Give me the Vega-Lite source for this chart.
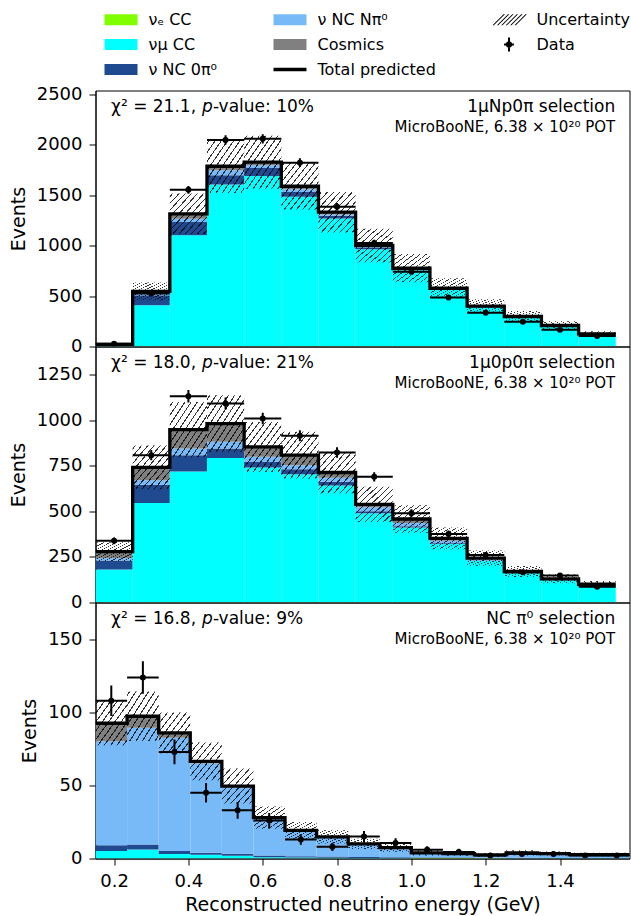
{
"$schema": "https://vega.github.io/schema/vega-lite/v6.json",
"autosize": {"type": "pad"},
"padding": {"left": 8.5, "top": 2.5, "right": 0, "bottom": 2},
"background": "white",
"datasets": {
"d": [
{"p":"A","x0":0.15,"x1":0.25,"xc":0.2,"tot":22,"lo":14,"hi":30,"n":28,"nlo":23,"nhi":33,"1e":0,"2mu":14,"3n0":4,"4nn":1,"5cos":3},
{"p":"A","x0":0.25,"x1":0.35,"xc":0.3,"tot":545,"lo":457,"hi":633,"n":525,"nlo":502,"nhi":548,"1e":3,"2mu":405,"3n0":100,"4nn":17,"5cos":20},
{"p":"A","x0":0.35,"x1":0.45,"xc":0.4,"tot":1314,"lo":1114,"hi":1514,"n":1551,"nlo":1512,"nhi":1590,"1e":3,"2mu":1099,"3n0":132,"4nn":30,"5cos":50},
{"p":"A","x0":0.45,"x1":0.55,"xc":0.5,"tot":1785,"lo":1520,"hi":2050,"n":2046,"nlo":2001,"nhi":2091,"1e":3,"2mu":1600,"3n0":92,"4nn":50,"5cos":40},
{"p":"A","x0":0.55,"x1":0.65,"xc":0.6,"tot":1825,"lo":1563,"hi":2087,"n":2056,"nlo":2011,"nhi":2101,"1e":3,"2mu":1686,"3n0":79,"4nn":27,"5cos":30},
{"p":"A","x0":0.65,"x1":0.75,"xc":0.7,"tot":1587,"lo":1357,"hi":1817,"n":1820,"nlo":1777,"nhi":1863,"1e":3,"2mu":1479,"3n0":49,"4nn":26,"5cos":30},
{"p":"A","x0":0.75,"x1":0.85,"xc":0.8,"tot":1330,"lo":1130,"hi":1530,"n":1383,"nlo":1346,"nhi":1420,"1e":3,"2mu":1264,"3n0":28,"4nn":12,"5cos":23},
{"p":"A","x0":0.85,"x1":0.95,"xc":0.9,"tot":1000,"lo":835,"hi":1165,"n":1025,"nlo":993,"nhi":1057,"1e":2,"2mu":960,"3n0":15,"4nn":10,"5cos":13},
{"p":"A","x0":0.95,"x1":1.05,"xc":1.0,"tot":775,"lo":635,"hi":915,"n":740,"nlo":713,"nhi":767,"1e":2,"2mu":752,"3n0":8,"4nn":6,"5cos":7},
{"p":"A","x0":1.05,"x1":1.15,"xc":1.1,"tot":577,"lo":477,"hi":677,"n":485,"nlo":463,"nhi":507,"1e":2,"2mu":558,"3n0":6,"4nn":4,"5cos":7},
{"p":"A","x0":1.15,"x1":1.25,"xc":1.2,"tot":399,"lo":329,"hi":469,"n":335,"nlo":317,"nhi":353,"1e":2,"2mu":385,"3n0":4,"4nn":3,"5cos":5},
{"p":"A","x0":1.25,"x1":1.35,"xc":1.3,"tot":297,"lo":242,"hi":352,"n":245,"nlo":229,"nhi":261,"1e":2,"2mu":284,"3n0":3,"4nn":2,"5cos":6},
{"p":"A","x0":1.35,"x1":1.45,"xc":1.4,"tot":208,"lo":166,"hi":250,"n":165,"nlo":152,"nhi":178,"1e":2,"2mu":198,"3n0":2,"4nn":2,"5cos":4},
{"p":"A","x0":1.45,"x1":1.55,"xc":1.5,"tot":125,"lo":99,"hi":151,"n":105,"nlo":95,"nhi":115,"1e":2,"2mu":117,"3n0":2,"4nn":1,"5cos":3},
{"p":"B","x0":0.15,"x1":0.25,"xc":0.2,"tot":279,"lo":227,"hi":331,"n":338,"nlo":320,"nhi":356,"1e":2,"2mu":179,"3n0":50,"4nn":12,"5cos":36},
{"p":"B","x0":0.25,"x1":0.35,"xc":0.3,"tot":741,"lo":621,"hi":861,"n":808,"nlo":780,"nhi":836,"1e":2,"2mu":544,"3n0":100,"4nn":25,"5cos":70},
{"p":"B","x0":0.35,"x1":0.45,"xc":0.4,"tot":948,"lo":796,"hi":1100,"n":1131,"nlo":1097,"nhi":1165,"1e":2,"2mu":717,"3n0":89,"4nn":37,"5cos":103},
{"p":"B","x0":0.45,"x1":0.55,"xc":0.5,"tot":981,"lo":826,"hi":1136,"n":1091,"nlo":1058,"nhi":1124,"1e":2,"2mu":790,"3n0":53,"4nn":36,"5cos":100},
{"p":"B","x0":0.55,"x1":0.65,"xc":0.6,"tot":853,"lo":716,"hi":990,"n":1009,"nlo":977,"nhi":1041,"1e":2,"2mu":739,"3n0":30,"4nn":28,"5cos":54},
{"p":"B","x0":0.65,"x1":0.75,"xc":0.7,"tot":808,"lo":680,"hi":936,"n":914,"nlo":884,"nhi":944,"1e":2,"2mu":702,"3n0":27,"4nn":22,"5cos":55},
{"p":"B","x0":0.75,"x1":0.85,"xc":0.8,"tot":713,"lo":599,"hi":827,"n":823,"nlo":794,"nhi":852,"1e":2,"2mu":640,"3n0":20,"4nn":22,"5cos":29},
{"p":"B","x0":0.85,"x1":0.95,"xc":0.9,"tot":538,"lo":441,"hi":635,"n":689,"nlo":663,"nhi":715,"1e":2,"2mu":488,"3n0":10,"4nn":22,"5cos":16},
{"p":"B","x0":0.95,"x1":1.05,"xc":1.0,"tot":458,"lo":382,"hi":534,"n":489,"nlo":467,"nhi":511,"1e":2,"2mu":410,"3n0":6,"4nn":18,"5cos":22},
{"p":"B","x0":1.05,"x1":1.15,"xc":1.1,"tot":352,"lo":292,"hi":412,"n":376,"nlo":357,"nhi":395,"1e":2,"2mu":320,"3n0":4,"4nn":12,"5cos":14},
{"p":"B","x0":1.15,"x1":1.25,"xc":1.2,"tot":243,"lo":201,"hi":285,"n":261,"nlo":245,"nhi":277,"1e":2,"2mu":226,"3n0":3,"4nn":6,"5cos":6},
{"p":"B","x0":1.25,"x1":1.35,"xc":1.3,"tot":170,"lo":140,"hi":200,"n":166,"nlo":153,"nhi":179,"1e":2,"2mu":158,"3n0":2,"4nn":4,"5cos":4},
{"p":"B","x0":1.35,"x1":1.45,"xc":1.4,"tot":130,"lo":105,"hi":155,"n":148,"nlo":136,"nhi":160,"1e":2,"2mu":120,"3n0":1,"4nn":3,"5cos":4},
{"p":"B","x0":1.45,"x1":1.55,"xc":1.5,"tot":100,"lo":82,"hi":118,"n":86,"nlo":77,"nhi":95,"1e":2,"2mu":92,"3n0":1,"4nn":2,"5cos":3},
{"p":"C","x0":0.15,"x1":0.235,"xc":0.1925,"tot":92.6,"lo":77.6,"hi":107.6,"n":108,"nlo":97.6,"nhi":118.4,"1e":0,"2mu":5.2,"3n0":3.9,"4nn":71.2,"5cos":12.3},
{"p":"C","x0":0.235,"x1":0.32,"xc":0.2775,"tot":97.4,"lo":80.4,"hi":114.4,"n":124,"nlo":112.9,"nhi":135.1,"1e":0,"2mu":6.1,"3n0":3.5,"4nn":79.9,"5cos":7.9},
{"p":"C","x0":0.32,"x1":0.405,"xc":0.3625,"tot":86,"lo":72,"hi":100,"n":73,"nlo":64.5,"nhi":81.5,"1e":0,"2mu":3,"3n0":2.2,"4nn":77.4,"5cos":3.4},
{"p":"C","x0":0.405,"x1":0.49,"xc":0.4475,"tot":66.5,"lo":53.5,"hi":79.5,"n":45,"nlo":38.3,"nhi":51.7,"1e":0,"2mu":2.5,"3n0":1.5,"4nn":61,"5cos":1.5},
{"p":"C","x0":0.49,"x1":0.575,"xc":0.5325,"tot":49.6,"lo":37.6,"hi":61.6,"n":33,"nlo":27.3,"nhi":38.7,"1e":0,"2mu":1.8,"3n0":1.5,"4nn":45.3,"5cos":1},
{"p":"C","x0":0.575,"x1":0.66,"xc":0.6175,"tot":28,"lo":20.4,"hi":35.6,"n":26,"nlo":20.9,"nhi":31.1,"1e":0,"2mu":0.8,"3n0":1.2,"4nn":25,"5cos":1},
{"p":"C","x0":0.66,"x1":0.745,"xc":0.7025,"tot":19.3,"lo":13.6,"hi":25,"n":13,"nlo":9.4,"nhi":16.6,"1e":0,"2mu":0.6,"3n0":1,"4nn":17,"5cos":0.7},
{"p":"C","x0":0.745,"x1":0.83,"xc":0.7875,"tot":14.8,"lo":10.3,"hi":19.3,"n":8,"nlo":5.2,"nhi":10.8,"1e":0,"2mu":0.5,"3n0":0.8,"4nn":13,"5cos":0.5},
{"p":"C","x0":0.83,"x1":0.915,"xc":0.8725,"tot":10,"lo":6.5,"hi":13.5,"n":15,"nlo":11.1,"nhi":18.9,"1e":0,"2mu":0.4,"3n0":0.6,"4nn":8.6,"5cos":0.4},
{"p":"C","x0":0.915,"x1":1.0,"xc":0.9575,"tot":7.4,"lo":4.6,"hi":10.2,"n":10.6,"nlo":7.3,"nhi":13.9,"1e":0,"2mu":0.3,"3n0":0.5,"4nn":6.3,"5cos":0.3},
{"p":"C","x0":1.0,"x1":1.085,"xc":1.0425,"tot":3.9,"lo":2.1,"hi":5.7,"n":6,"nlo":3.6,"nhi":8.4,"1e":0.3,"2mu":0.2,"3n0":0.3,"4nn":2.9,"5cos":0.2},
{"p":"C","x0":1.085,"x1":1.17,"xc":1.1275,"tot":3.4,"lo":1.8,"hi":5.0,"n":4.5,"nlo":2.4,"nhi":6.6,"1e":0.3,"2mu":0.2,"3n0":0.3,"4nn":2.4,"5cos":0.2},
{"p":"C","x0":1.17,"x1":1.255,"xc":1.2125,"tot":2.5,"lo":1.2,"hi":3.8,"n":2,"nlo":0.6,"nhi":3.4,"1e":0.2,"2mu":0.1,"3n0":0.2,"4nn":1.8,"5cos":0.2},
{"p":"C","x0":1.255,"x1":1.34,"xc":1.2975,"tot":3.9,"lo":2.1,"hi":5.7,"n":3,"nlo":1.3,"nhi":4.7,"1e":0,"2mu":0.2,"3n0":0.3,"4nn":3.2,"5cos":0.2},
{"p":"C","x0":1.34,"x1":1.425,"xc":1.3825,"tot":3.4,"lo":2.0,"hi":4.8,"n":3,"nlo":1.3,"nhi":4.7,"1e":0,"2mu":0.1,"3n0":0.2,"4nn":2.9,"5cos":0.2},
{"p":"C","x0":1.425,"x1":1.51,"xc":1.4675,"tot":2.7,"lo":1.5,"hi":3.9,"n":2,"nlo":0.6,"nhi":3.4,"1e":0,"2mu":0.1,"3n0":0.2,"4nn":2.2,"5cos":0.2},
{"p":"C","x0":1.51,"x1":1.595,"xc":1.5525,"tot":2.7,"lo":1.5,"hi":3.9,"n":2,"nlo":0.6,"nhi":3.4,"1e":0,"2mu":0.1,"3n0":0.2,"4nn":2.2,"5cos":0.2}
]
},
"vconcat": [
{
"width": 534, "height": 256,
"layer": [
{"data": {"name": "d"}, "transform": [{"filter": "datum.p == 'A'"}, {"fold": ["1e","2mu","3n0","4nn","5cos"], "as": ["key","v"]}, {"stack": "v", "groupby": ["x0"], "sort": [{"field": "key"}], "as": ["s0","s1"]}],
 "mark": {"type": "rect", "clip": true},
 "encoding": {
  "x": {"field": "x0", "type": "quantitative", "scale": {"domain": [0.15, 1.587], "nice": false, "zero": false}, "axis": null},
  "x2": {"field": "x1"},
  "y": {"field": "s0", "type": "quantitative", "scale": {"domain": [0, 2535], "nice": false, "zero": false}, "axis": {"title": "Events", "values": [0,500,1000,1500,2000,2500]}},
  "y2": {"field": "s1"},
  "fill": {"field": "key", "type": "nominal",
   "scale": {"domain": ["1e","4nn","7unc","2mu","5cos","8dat","3n0","6tot"], "range": ["#7fff00","#78baf8","black","#00ffff","#808080","black","#1f4a8f","black"]},
   "legend": {"orient": "none", "legendX": 9, "legendY": -87.5, "direction": "horizontal", "columns": 3, "title": null,
     "labelExpr": "datum.value === '1e' ? 'νₑ CC' : datum.value === '2mu' ? 'νμ CC' : datum.value === '3n0' ? 'ν NC 0π⁰' : datum.value === '4nn' ? 'ν NC Nπ⁰' : datum.value === '5cos' ? 'Cosmics' : datum.value === '6tot' ? 'Total predicted' : datum.value === '7unc' ? 'Uncertainty' : 'Data'"}
  }
 }},
{"data": {"name": "d"}, "transform": [{"filter": "false"}, {"fold": ["1e","2mu","3n0","4nn","5cos"], "as": ["key","v"]}],
 "mark": {"type": "point", "filled": true, "opacity": 1},
 "encoding": {
  "x": {"field": "xc", "type": "quantitative", "scale": {"domain": [0.15, 1.587], "nice": false, "zero": false}, "axis": null},
  "y": {"field": "n", "type": "quantitative", "scale": {"domain": [0, 2535], "nice": false, "zero": false}, "axis": {"title": "Events", "values": [0,500,1000,1500,2000,2500]}},
  "fill": {"field": "key", "type": "nominal",
   "scale": {"domain": ["1e","4nn","7unc","2mu","5cos","8dat","3n0","6tot"], "range": ["#7fff00","#78baf8","black","#00ffff","#808080","black","#1f4a8f","black"]}},
  "shape": {"field": "key", "type": "nominal",
   "scale": {"domain": ["1e","4nn","7unc","2mu","5cos","8dat","3n0","6tot"], "range": [
     "M-1,-0.33H1V0.33H-1Z",
     "M-1,-0.33H1V0.33H-1Z",
     "M-1,0.33L-0.33,-0.33L-0.25,-0.33L-0.92,0.33Z M-0.73,0.33L-0.06,-0.33L0.02,-0.33L-0.65,0.33Z M-0.47,0.33L0.2,-0.33L0.28,-0.33L-0.39,0.33Z M-0.2,0.33L0.47,-0.33L0.55,-0.33L-0.12,0.33Z M0.07,0.33L0.74,-0.33L0.82,-0.33L0.15,0.33Z M0.33,0.33L1,-0.33L1.08,-0.33L0.41,0.33Z",
     "M-1,-0.33H1V0.33H-1Z",
     "M-1,-0.33H1V0.33H-1Z",
     "M-0.06,-0.42H0.06V0.42H-0.06Z M-0.3,-0.06H0.3V0.06H-0.3Z M0.2,0A0.2,0.2,0,1,1,-0.2,0A0.2,0.2,0,1,1,0.2,0Z",
     "M-1,-0.33H1V0.33H-1Z",
     "M-1,-0.1H1V0.1H-1Z"]},
   "legend": {"orient": "none", "legendX": 9, "legendY": -87.5, "direction": "horizontal", "columns": 3, "title": null,
     "labelExpr": "datum.value === '1e' ? 'νₑ CC' : datum.value === '2mu' ? 'νμ CC' : datum.value === '3n0' ? 'ν NC 0π⁰' : datum.value === '4nn' ? 'ν NC Nπ⁰' : datum.value === '5cos' ? 'Cosmics' : datum.value === '6tot' ? 'Total predicted' : datum.value === '7unc' ? 'Uncertainty' : 'Data'"}}
 }},
{"data": {"name": "d"}, "transform": [{"filter": "datum.p == 'A'"}],
 "mark": {"type": "rect", "clip": true, "fill": {"gradient": "linear", "x1": 0, "y1": 0, "x2": 1, "y2": 1, "stops": [
  {"offset": 0, "color": "rgba(0,0,0,0)"},
  {"offset": 0.03, "color": "rgba(0,0,0,0)"},{"offset": 0.03, "color": "rgba(0,0,0,0.8)"},{"offset": 0.0467, "color": "rgba(0,0,0,0.8)"},{"offset": 0.0467, "color": "rgba(0,0,0,0)"},
  {"offset": 0.1133, "color": "rgba(0,0,0,0)"},{"offset": 0.1133, "color": "rgba(0,0,0,0.8)"},{"offset": 0.13, "color": "rgba(0,0,0,0.8)"},{"offset": 0.13, "color": "rgba(0,0,0,0)"},
  {"offset": 0.1967, "color": "rgba(0,0,0,0)"},{"offset": 0.1967, "color": "rgba(0,0,0,0.8)"},{"offset": 0.2133, "color": "rgba(0,0,0,0.8)"},{"offset": 0.2133, "color": "rgba(0,0,0,0)"},
  {"offset": 0.28, "color": "rgba(0,0,0,0)"},{"offset": 0.28, "color": "rgba(0,0,0,0.8)"},{"offset": 0.2967, "color": "rgba(0,0,0,0.8)"},{"offset": 0.2967, "color": "rgba(0,0,0,0)"},
  {"offset": 0.3633, "color": "rgba(0,0,0,0)"},{"offset": 0.3633, "color": "rgba(0,0,0,0.8)"},{"offset": 0.38, "color": "rgba(0,0,0,0.8)"},{"offset": 0.38, "color": "rgba(0,0,0,0)"},
  {"offset": 0.4467, "color": "rgba(0,0,0,0)"},{"offset": 0.4467, "color": "rgba(0,0,0,0.8)"},{"offset": 0.4633, "color": "rgba(0,0,0,0.8)"},{"offset": 0.4633, "color": "rgba(0,0,0,0)"},
  {"offset": 0.53, "color": "rgba(0,0,0,0)"},{"offset": 0.53, "color": "rgba(0,0,0,0.8)"},{"offset": 0.5467, "color": "rgba(0,0,0,0.8)"},{"offset": 0.5467, "color": "rgba(0,0,0,0)"},
  {"offset": 0.6133, "color": "rgba(0,0,0,0)"},{"offset": 0.6133, "color": "rgba(0,0,0,0.8)"},{"offset": 0.63, "color": "rgba(0,0,0,0.8)"},{"offset": 0.63, "color": "rgba(0,0,0,0)"},
  {"offset": 0.6967, "color": "rgba(0,0,0,0)"},{"offset": 0.6967, "color": "rgba(0,0,0,0.8)"},{"offset": 0.7133, "color": "rgba(0,0,0,0.8)"},{"offset": 0.7133, "color": "rgba(0,0,0,0)"},
  {"offset": 0.78, "color": "rgba(0,0,0,0)"},{"offset": 0.78, "color": "rgba(0,0,0,0.8)"},{"offset": 0.7967, "color": "rgba(0,0,0,0.8)"},{"offset": 0.7967, "color": "rgba(0,0,0,0)"},
  {"offset": 0.8633, "color": "rgba(0,0,0,0)"},{"offset": 0.8633, "color": "rgba(0,0,0,0.8)"},{"offset": 0.88, "color": "rgba(0,0,0,0.8)"},{"offset": 0.88, "color": "rgba(0,0,0,0)"},
  {"offset": 0.9467, "color": "rgba(0,0,0,0)"},{"offset": 0.9467, "color": "rgba(0,0,0,0.8)"},{"offset": 0.9633, "color": "rgba(0,0,0,0.8)"},{"offset": 0.9633, "color": "rgba(0,0,0,0)"},
  {"offset": 1, "color": "rgba(0,0,0,0)"}]}},
 "encoding": {
  "x": {"field": "x0", "type": "quantitative", "scale": {"domain": [0.15, 1.587], "nice": false, "zero": false}, "axis": null},
  "x2": {"field": "x1"},
  "y": {"field": "lo", "type": "quantitative", "scale": {"domain": [0, 2535], "nice": false, "zero": false}, "axis": {"title": "Events", "values": [0,500,1000,1500,2000,2500]}},
  "y2": {"field": "hi"}
 }},
{"data": {"name": "d"}, "transform": [{"filter": "datum.p == 'A'"}, {"fold": ["x0","x1"], "as": ["ek","edge"]}],
 "mark": {"type": "line", "color": "black", "strokeWidth": 3.3, "strokeJoin": "miter", "clip": true},
 "encoding": {
  "x": {"field": "edge", "type": "quantitative", "scale": {"domain": [0.15, 1.587], "nice": false, "zero": false}, "axis": null},
  "y": {"field": "tot", "type": "quantitative", "scale": {"domain": [0, 2535], "nice": false, "zero": false}, "axis": {"title": "Events", "values": [0,500,1000,1500,2000,2500]}},
  "order": [{"field": "edge", "type": "quantitative"}, {"field": "ek", "type": "nominal", "sort": "descending"}]
 }},
{"data": {"name": "d"}, "transform": [{"filter": "datum.p == 'A'"}],
 "mark": {"type": "rule", "color": "black", "strokeWidth": 2, "clip": true},
 "encoding": {
  "x": {"field": "x0", "type": "quantitative", "scale": {"domain": [0.15, 1.587], "nice": false, "zero": false}, "axis": null},
  "x2": {"field": "x1"},
  "y": {"field": "n", "type": "quantitative", "scale": {"domain": [0, 2535], "nice": false, "zero": false}, "axis": {"title": "Events", "values": [0,500,1000,1500,2000,2500]}}
 }},
{"data": {"name": "d"}, "transform": [{"filter": "datum.p == 'A'"}],
 "mark": {"type": "rule", "color": "black", "strokeWidth": 2, "clip": true},
 "encoding": {
  "x": {"field": "xc", "type": "quantitative", "scale": {"domain": [0.15, 1.587], "nice": false, "zero": false}, "axis": null},
  "y": {"field": "nlo", "type": "quantitative", "scale": {"domain": [0, 2535], "nice": false, "zero": false}, "axis": {"title": "Events", "values": [0,500,1000,1500,2000,2500]}},
  "y2": {"field": "nhi"}
 }},
{"data": {"name": "d"}, "transform": [{"filter": "datum.p == 'A'"}],
 "mark": {"type": "circle", "color": "black", "size": 36, "opacity": 1, "clip": true},
 "encoding": {
  "x": {"field": "xc", "type": "quantitative", "scale": {"domain": [0.15, 1.587], "nice": false, "zero": false}, "axis": null},
  "y": {"field": "n", "type": "quantitative", "scale": {"domain": [0, 2535], "nice": false, "zero": false}, "axis": {"title": "Events", "values": [0,500,1000,1500,2000,2500]}}
 }},
{"data": {"values": [{}]}, "mark": {"type": "text", "text": "χ² = 21.1, ", "align": "left", "baseline": "alphabetic", "fontSize": 17, "color": "black"},
 "encoding": {"x": {"datum": 0.192, "type": "quantitative", "scale": {"domain": [0.15, 1.587], "nice": false, "zero": false}, "axis": null}, "y": {"datum": 2321, "type": "quantitative", "scale": {"domain": [0, 2535], "nice": false, "zero": false}, "axis": {"title": "Events", "values": [0,500,1000,1500,2000,2500]}}}},
{"data": {"values": [{}]}, "mark": {"type": "text", "text": "p", "align": "left", "baseline": "alphabetic", "fontSize": 17, "fontStyle": "italic", "dx": 91, "color": "black"},
 "encoding": {"x": {"datum": 0.192, "type": "quantitative", "scale": {"domain": [0.15, 1.587], "nice": false, "zero": false}, "axis": null}, "y": {"datum": 2321, "type": "quantitative", "scale": {"domain": [0, 2535], "nice": false, "zero": false}, "axis": {"title": "Events", "values": [0,500,1000,1500,2000,2500]}}}},
{"data": {"values": [{}]}, "mark": {"type": "text", "text": "-value: 10%", "align": "left", "baseline": "alphabetic", "fontSize": 17, "dx": 101.8, "color": "black"},
 "encoding": {"x": {"datum": 0.192, "type": "quantitative", "scale": {"domain": [0.15, 1.587], "nice": false, "zero": false}, "axis": null}, "y": {"datum": 2321, "type": "quantitative", "scale": {"domain": [0, 2535], "nice": false, "zero": false}, "axis": {"title": "Events", "values": [0,500,1000,1500,2000,2500]}}}},
{"data": {"values": [{}]}, "mark": {"type": "text", "text": "1μNp0π selection", "align": "right", "baseline": "alphabetic", "fontSize": 17, "color": "black"},
 "encoding": {"x": {"datum": 1.5486, "type": "quantitative", "scale": {"domain": [0.15, 1.587], "nice": false, "zero": false}, "axis": null}, "y": {"datum": 2321, "type": "quantitative", "scale": {"domain": [0, 2535], "nice": false, "zero": false}, "axis": {"title": "Events", "values": [0,500,1000,1500,2000,2500]}}}},
{"data": {"values": [{}]}, "mark": {"type": "text", "text": "MicroBooNE, 6.38 × 10²⁰ POT", "align": "right", "baseline": "alphabetic", "fontSize": 15, "color": "black"},
 "encoding": {"x": {"datum": 1.5486, "type": "quantitative", "scale": {"domain": [0.15, 1.587], "nice": false, "zero": false}, "axis": null}, "y": {"datum": 2120, "type": "quantitative", "scale": {"domain": [0, 2535], "nice": false, "zero": false}, "axis": {"title": "Events", "values": [0,500,1000,1500,2000,2500]}}}}
]
},
{
"width": 534, "height": 256,
"layer": [
{"data": {"name": "d"}, "transform": [{"filter": "datum.p == 'B'"}, {"fold": ["1e","2mu","3n0","4nn","5cos"], "as": ["key","v"]}, {"stack": "v", "groupby": ["x0"], "sort": [{"field": "key"}], "as": ["s0","s1"]}],
 "mark": {"type": "rect", "clip": true},
 "encoding": {
  "x": {"field": "x0", "type": "quantitative", "scale": {"domain": [0.15, 1.587], "nice": false, "zero": false}, "axis": null},
  "x2": {"field": "x1"},
  "y": {"field": "s0", "type": "quantitative", "scale": {"domain": [0, 1404], "nice": false, "zero": false}, "axis": {"title": "Events", "values": [0,250,500,750,1000,1250]}},
  "y2": {"field": "s1"},
  "fill": {"field": "key", "type": "nominal",
   "scale": {"domain": ["1e","4nn","7unc","2mu","5cos","8dat","3n0","6tot"], "range": ["#7fff00","#78baf8","black","#00ffff","#808080","black","#1f4a8f","black"]}}
 }},
{"data": {"name": "d"}, "transform": [{"filter": "datum.p == 'B'"}],
 "mark": {"type": "rect", "clip": true, "fill": {"gradient": "linear", "x1": 0, "y1": 0, "x2": 1, "y2": 1, "stops": [
  {"offset": 0, "color": "rgba(0,0,0,0)"},
  {"offset": 0.03, "color": "rgba(0,0,0,0)"},{"offset": 0.03, "color": "rgba(0,0,0,0.8)"},{"offset": 0.0467, "color": "rgba(0,0,0,0.8)"},{"offset": 0.0467, "color": "rgba(0,0,0,0)"},
  {"offset": 0.1133, "color": "rgba(0,0,0,0)"},{"offset": 0.1133, "color": "rgba(0,0,0,0.8)"},{"offset": 0.13, "color": "rgba(0,0,0,0.8)"},{"offset": 0.13, "color": "rgba(0,0,0,0)"},
  {"offset": 0.1967, "color": "rgba(0,0,0,0)"},{"offset": 0.1967, "color": "rgba(0,0,0,0.8)"},{"offset": 0.2133, "color": "rgba(0,0,0,0.8)"},{"offset": 0.2133, "color": "rgba(0,0,0,0)"},
  {"offset": 0.28, "color": "rgba(0,0,0,0)"},{"offset": 0.28, "color": "rgba(0,0,0,0.8)"},{"offset": 0.2967, "color": "rgba(0,0,0,0.8)"},{"offset": 0.2967, "color": "rgba(0,0,0,0)"},
  {"offset": 0.3633, "color": "rgba(0,0,0,0)"},{"offset": 0.3633, "color": "rgba(0,0,0,0.8)"},{"offset": 0.38, "color": "rgba(0,0,0,0.8)"},{"offset": 0.38, "color": "rgba(0,0,0,0)"},
  {"offset": 0.4467, "color": "rgba(0,0,0,0)"},{"offset": 0.4467, "color": "rgba(0,0,0,0.8)"},{"offset": 0.4633, "color": "rgba(0,0,0,0.8)"},{"offset": 0.4633, "color": "rgba(0,0,0,0)"},
  {"offset": 0.53, "color": "rgba(0,0,0,0)"},{"offset": 0.53, "color": "rgba(0,0,0,0.8)"},{"offset": 0.5467, "color": "rgba(0,0,0,0.8)"},{"offset": 0.5467, "color": "rgba(0,0,0,0)"},
  {"offset": 0.6133, "color": "rgba(0,0,0,0)"},{"offset": 0.6133, "color": "rgba(0,0,0,0.8)"},{"offset": 0.63, "color": "rgba(0,0,0,0.8)"},{"offset": 0.63, "color": "rgba(0,0,0,0)"},
  {"offset": 0.6967, "color": "rgba(0,0,0,0)"},{"offset": 0.6967, "color": "rgba(0,0,0,0.8)"},{"offset": 0.7133, "color": "rgba(0,0,0,0.8)"},{"offset": 0.7133, "color": "rgba(0,0,0,0)"},
  {"offset": 0.78, "color": "rgba(0,0,0,0)"},{"offset": 0.78, "color": "rgba(0,0,0,0.8)"},{"offset": 0.7967, "color": "rgba(0,0,0,0.8)"},{"offset": 0.7967, "color": "rgba(0,0,0,0)"},
  {"offset": 0.8633, "color": "rgba(0,0,0,0)"},{"offset": 0.8633, "color": "rgba(0,0,0,0.8)"},{"offset": 0.88, "color": "rgba(0,0,0,0.8)"},{"offset": 0.88, "color": "rgba(0,0,0,0)"},
  {"offset": 0.9467, "color": "rgba(0,0,0,0)"},{"offset": 0.9467, "color": "rgba(0,0,0,0.8)"},{"offset": 0.9633, "color": "rgba(0,0,0,0.8)"},{"offset": 0.9633, "color": "rgba(0,0,0,0)"},
  {"offset": 1, "color": "rgba(0,0,0,0)"}]}},
 "encoding": {
  "x": {"field": "x0", "type": "quantitative", "scale": {"domain": [0.15, 1.587], "nice": false, "zero": false}, "axis": null},
  "x2": {"field": "x1"},
  "y": {"field": "lo", "type": "quantitative", "scale": {"domain": [0, 1404], "nice": false, "zero": false}, "axis": {"title": "Events", "values": [0,250,500,750,1000,1250]}},
  "y2": {"field": "hi"}
 }},
{"data": {"name": "d"}, "transform": [{"filter": "datum.p == 'B'"}, {"fold": ["x0","x1"], "as": ["ek","edge"]}],
 "mark": {"type": "line", "color": "black", "strokeWidth": 3.3, "strokeJoin": "miter", "clip": true},
 "encoding": {
  "x": {"field": "edge", "type": "quantitative", "scale": {"domain": [0.15, 1.587], "nice": false, "zero": false}, "axis": null},
  "y": {"field": "tot", "type": "quantitative", "scale": {"domain": [0, 1404], "nice": false, "zero": false}, "axis": {"title": "Events", "values": [0,250,500,750,1000,1250]}},
  "order": [{"field": "edge", "type": "quantitative"}, {"field": "ek", "type": "nominal", "sort": "descending"}]
 }},
{"data": {"name": "d"}, "transform": [{"filter": "datum.p == 'B'"}],
 "mark": {"type": "rule", "color": "black", "strokeWidth": 2, "clip": true},
 "encoding": {
  "x": {"field": "x0", "type": "quantitative", "scale": {"domain": [0.15, 1.587], "nice": false, "zero": false}, "axis": null},
  "x2": {"field": "x1"},
  "y": {"field": "n", "type": "quantitative", "scale": {"domain": [0, 1404], "nice": false, "zero": false}, "axis": {"title": "Events", "values": [0,250,500,750,1000,1250]}}
 }},
{"data": {"name": "d"}, "transform": [{"filter": "datum.p == 'B'"}],
 "mark": {"type": "rule", "color": "black", "strokeWidth": 2, "clip": true},
 "encoding": {
  "x": {"field": "xc", "type": "quantitative", "scale": {"domain": [0.15, 1.587], "nice": false, "zero": false}, "axis": null},
  "y": {"field": "nlo", "type": "quantitative", "scale": {"domain": [0, 1404], "nice": false, "zero": false}, "axis": {"title": "Events", "values": [0,250,500,750,1000,1250]}},
  "y2": {"field": "nhi"}
 }},
{"data": {"name": "d"}, "transform": [{"filter": "datum.p == 'B'"}],
 "mark": {"type": "circle", "color": "black", "size": 36, "opacity": 1, "clip": true},
 "encoding": {
  "x": {"field": "xc", "type": "quantitative", "scale": {"domain": [0.15, 1.587], "nice": false, "zero": false}, "axis": null},
  "y": {"field": "n", "type": "quantitative", "scale": {"domain": [0, 1404], "nice": false, "zero": false}, "axis": {"title": "Events", "values": [0,250,500,750,1000,1250]}}
 }},
{"data": {"values": [{}]}, "mark": {"type": "text", "text": "χ² = 18.0, ", "align": "left", "baseline": "alphabetic", "fontSize": 17, "color": "black"},
 "encoding": {"x": {"datum": 0.192, "type": "quantitative", "scale": {"domain": [0.15, 1.587], "nice": false, "zero": false}, "axis": null}, "y": {"datum": 1286, "type": "quantitative", "scale": {"domain": [0, 1404], "nice": false, "zero": false}, "axis": {"title": "Events", "values": [0,250,500,750,1000,1250]}}}},
{"data": {"values": [{}]}, "mark": {"type": "text", "text": "p", "align": "left", "baseline": "alphabetic", "fontSize": 17, "fontStyle": "italic", "dx": 91, "color": "black"},
 "encoding": {"x": {"datum": 0.192, "type": "quantitative", "scale": {"domain": [0.15, 1.587], "nice": false, "zero": false}, "axis": null}, "y": {"datum": 1286, "type": "quantitative", "scale": {"domain": [0, 1404], "nice": false, "zero": false}, "axis": {"title": "Events", "values": [0,250,500,750,1000,1250]}}}},
{"data": {"values": [{}]}, "mark": {"type": "text", "text": "-value: 21%", "align": "left", "baseline": "alphabetic", "fontSize": 17, "dx": 101.8, "color": "black"},
 "encoding": {"x": {"datum": 0.192, "type": "quantitative", "scale": {"domain": [0.15, 1.587], "nice": false, "zero": false}, "axis": null}, "y": {"datum": 1286, "type": "quantitative", "scale": {"domain": [0, 1404], "nice": false, "zero": false}, "axis": {"title": "Events", "values": [0,250,500,750,1000,1250]}}}},
{"data": {"values": [{}]}, "mark": {"type": "text", "text": "1μ0p0π selection", "align": "right", "baseline": "alphabetic", "fontSize": 17, "color": "black"},
 "encoding": {"x": {"datum": 1.5486, "type": "quantitative", "scale": {"domain": [0.15, 1.587], "nice": false, "zero": false}, "axis": null}, "y": {"datum": 1286, "type": "quantitative", "scale": {"domain": [0, 1404], "nice": false, "zero": false}, "axis": {"title": "Events", "values": [0,250,500,750,1000,1250]}}}},
{"data": {"values": [{}]}, "mark": {"type": "text", "text": "MicroBooNE, 6.38 × 10²⁰ POT", "align": "right", "baseline": "alphabetic", "fontSize": 15, "color": "black"},
 "encoding": {"x": {"datum": 1.5486, "type": "quantitative", "scale": {"domain": [0.15, 1.587], "nice": false, "zero": false}, "axis": null}, "y": {"datum": 1175, "type": "quantitative", "scale": {"domain": [0, 1404], "nice": false, "zero": false}, "axis": {"title": "Events", "values": [0,250,500,750,1000,1250]}}}}
]
},
{
"width": 534, "height": 256,
"layer": [
{"data": {"name": "d"}, "transform": [{"filter": "datum.p == 'C'"}, {"fold": ["1e","2mu","3n0","4nn","5cos"], "as": ["key","v"]}, {"stack": "v", "groupby": ["x0"], "sort": [{"field": "key"}], "as": ["s0","s1"]}],
 "mark": {"type": "rect", "clip": true},
 "encoding": {
  "x": {"field": "x0", "type": "quantitative", "scale": {"domain": [0.15, 1.587], "nice": false, "zero": false}, "axis": {"title": "Reconstructed neutrino energy (GeV)", "values": [0.2,0.4,0.6,0.8,1.0,1.2,1.4], "format": ".1f"}},
  "x2": {"field": "x1"},
  "y": {"field": "s0", "type": "quantitative", "scale": {"domain": [0, 175.3], "nice": false, "zero": false}, "axis": {"title": "Events", "values": [0,50,100,150]}},
  "y2": {"field": "s1"},
  "fill": {"field": "key", "type": "nominal",
   "scale": {"domain": ["1e","4nn","7unc","2mu","5cos","8dat","3n0","6tot"], "range": ["#7fff00","#78baf8","black","#00ffff","#808080","black","#1f4a8f","black"]}}
 }},
{"data": {"name": "d"}, "transform": [{"filter": "datum.p == 'C'"}],
 "mark": {"type": "rect", "clip": true, "fill": {"gradient": "linear", "x1": 0, "y1": 0, "x2": 1, "y2": 1, "stops": [
  {"offset": 0, "color": "rgba(0,0,0,0)"},
  {"offset": 0.03, "color": "rgba(0,0,0,0)"},{"offset": 0.03, "color": "rgba(0,0,0,0.8)"},{"offset": 0.05, "color": "rgba(0,0,0,0.8)"},{"offset": 0.05, "color": "rgba(0,0,0,0)"},
  {"offset": 0.13, "color": "rgba(0,0,0,0)"},{"offset": 0.13, "color": "rgba(0,0,0,0.8)"},{"offset": 0.15, "color": "rgba(0,0,0,0.8)"},{"offset": 0.15, "color": "rgba(0,0,0,0)"},
  {"offset": 0.23, "color": "rgba(0,0,0,0)"},{"offset": 0.23, "color": "rgba(0,0,0,0.8)"},{"offset": 0.25, "color": "rgba(0,0,0,0.8)"},{"offset": 0.25, "color": "rgba(0,0,0,0)"},
  {"offset": 0.33, "color": "rgba(0,0,0,0)"},{"offset": 0.33, "color": "rgba(0,0,0,0.8)"},{"offset": 0.35, "color": "rgba(0,0,0,0.8)"},{"offset": 0.35, "color": "rgba(0,0,0,0)"},
  {"offset": 0.43, "color": "rgba(0,0,0,0)"},{"offset": 0.43, "color": "rgba(0,0,0,0.8)"},{"offset": 0.45, "color": "rgba(0,0,0,0.8)"},{"offset": 0.45, "color": "rgba(0,0,0,0)"},
  {"offset": 0.53, "color": "rgba(0,0,0,0)"},{"offset": 0.53, "color": "rgba(0,0,0,0.8)"},{"offset": 0.55, "color": "rgba(0,0,0,0.8)"},{"offset": 0.55, "color": "rgba(0,0,0,0)"},
  {"offset": 0.63, "color": "rgba(0,0,0,0)"},{"offset": 0.63, "color": "rgba(0,0,0,0.8)"},{"offset": 0.65, "color": "rgba(0,0,0,0.8)"},{"offset": 0.65, "color": "rgba(0,0,0,0)"},
  {"offset": 0.73, "color": "rgba(0,0,0,0)"},{"offset": 0.73, "color": "rgba(0,0,0,0.8)"},{"offset": 0.75, "color": "rgba(0,0,0,0.8)"},{"offset": 0.75, "color": "rgba(0,0,0,0)"},
  {"offset": 0.83, "color": "rgba(0,0,0,0)"},{"offset": 0.83, "color": "rgba(0,0,0,0.8)"},{"offset": 0.85, "color": "rgba(0,0,0,0.8)"},{"offset": 0.85, "color": "rgba(0,0,0,0)"},
  {"offset": 0.93, "color": "rgba(0,0,0,0)"},{"offset": 0.93, "color": "rgba(0,0,0,0.8)"},{"offset": 0.95, "color": "rgba(0,0,0,0.8)"},{"offset": 0.95, "color": "rgba(0,0,0,0)"},
  {"offset": 1, "color": "rgba(0,0,0,0)"}]}},
 "encoding": {
  "x": {"field": "x0", "type": "quantitative", "scale": {"domain": [0.15, 1.587], "nice": false, "zero": false}, "axis": {"title": "Reconstructed neutrino energy (GeV)", "values": [0.2,0.4,0.6,0.8,1.0,1.2,1.4], "format": ".1f"}},
  "x2": {"field": "x1"},
  "y": {"field": "lo", "type": "quantitative", "scale": {"domain": [0, 175.3], "nice": false, "zero": false}, "axis": {"title": "Events", "values": [0,50,100,150]}},
  "y2": {"field": "hi"}
 }},
{"data": {"name": "d"}, "transform": [{"filter": "datum.p == 'C'"}, {"fold": ["x0","x1"], "as": ["ek","edge"]}],
 "mark": {"type": "line", "color": "black", "strokeWidth": 3.3, "strokeJoin": "miter", "clip": true},
 "encoding": {
  "x": {"field": "edge", "type": "quantitative", "scale": {"domain": [0.15, 1.587], "nice": false, "zero": false}, "axis": {"title": "Reconstructed neutrino energy (GeV)", "values": [0.2,0.4,0.6,0.8,1.0,1.2,1.4], "format": ".1f"}},
  "y": {"field": "tot", "type": "quantitative", "scale": {"domain": [0, 175.3], "nice": false, "zero": false}, "axis": {"title": "Events", "values": [0,50,100,150]}},
  "order": [{"field": "edge", "type": "quantitative"}, {"field": "ek", "type": "nominal", "sort": "descending"}]
 }},
{"data": {"name": "d"}, "transform": [{"filter": "datum.p == 'C'"}],
 "mark": {"type": "rule", "color": "black", "strokeWidth": 2, "clip": true},
 "encoding": {
  "x": {"field": "x0", "type": "quantitative", "scale": {"domain": [0.15, 1.587], "nice": false, "zero": false}, "axis": {"title": "Reconstructed neutrino energy (GeV)", "values": [0.2,0.4,0.6,0.8,1.0,1.2,1.4], "format": ".1f"}},
  "x2": {"field": "x1"},
  "y": {"field": "n", "type": "quantitative", "scale": {"domain": [0, 175.3], "nice": false, "zero": false}, "axis": {"title": "Events", "values": [0,50,100,150]}}
 }},
{"data": {"name": "d"}, "transform": [{"filter": "datum.p == 'C'"}],
 "mark": {"type": "rule", "color": "black", "strokeWidth": 2, "clip": true},
 "encoding": {
  "x": {"field": "xc", "type": "quantitative", "scale": {"domain": [0.15, 1.587], "nice": false, "zero": false}, "axis": {"title": "Reconstructed neutrino energy (GeV)", "values": [0.2,0.4,0.6,0.8,1.0,1.2,1.4], "format": ".1f"}},
  "y": {"field": "nlo", "type": "quantitative", "scale": {"domain": [0, 175.3], "nice": false, "zero": false}, "axis": {"title": "Events", "values": [0,50,100,150]}},
  "y2": {"field": "nhi"}
 }},
{"data": {"name": "d"}, "transform": [{"filter": "datum.p == 'C'"}],
 "mark": {"type": "circle", "color": "black", "size": 36, "opacity": 1, "clip": true},
 "encoding": {
  "x": {"field": "xc", "type": "quantitative", "scale": {"domain": [0.15, 1.587], "nice": false, "zero": false}, "axis": {"title": "Reconstructed neutrino energy (GeV)", "values": [0.2,0.4,0.6,0.8,1.0,1.2,1.4], "format": ".1f"}},
  "y": {"field": "n", "type": "quantitative", "scale": {"domain": [0, 175.3], "nice": false, "zero": false}, "axis": {"title": "Events", "values": [0,50,100,150]}}
 }},
{"data": {"values": [{}]}, "mark": {"type": "text", "text": "χ² = 16.8, ", "align": "left", "baseline": "alphabetic", "fontSize": 17, "color": "black"},
 "encoding": {"x": {"datum": 0.192, "type": "quantitative", "scale": {"domain": [0.15, 1.587], "nice": false, "zero": false}, "axis": {"title": "Reconstructed neutrino energy (GeV)", "values": [0.2,0.4,0.6,0.8,1.0,1.2,1.4], "format": ".1f"}}, "y": {"datum": 160.5, "type": "quantitative", "scale": {"domain": [0, 175.3], "nice": false, "zero": false}, "axis": {"title": "Events", "values": [0,50,100,150]}}}},
{"data": {"values": [{}]}, "mark": {"type": "text", "text": "p", "align": "left", "baseline": "alphabetic", "fontSize": 17, "fontStyle": "italic", "dx": 91, "color": "black"},
 "encoding": {"x": {"datum": 0.192, "type": "quantitative", "scale": {"domain": [0.15, 1.587], "nice": false, "zero": false}, "axis": {"title": "Reconstructed neutrino energy (GeV)", "values": [0.2,0.4,0.6,0.8,1.0,1.2,1.4], "format": ".1f"}}, "y": {"datum": 160.5, "type": "quantitative", "scale": {"domain": [0, 175.3], "nice": false, "zero": false}, "axis": {"title": "Events", "values": [0,50,100,150]}}}},
{"data": {"values": [{}]}, "mark": {"type": "text", "text": "-value: 9%", "align": "left", "baseline": "alphabetic", "fontSize": 17, "dx": 101.8, "color": "black"},
 "encoding": {"x": {"datum": 0.192, "type": "quantitative", "scale": {"domain": [0.15, 1.587], "nice": false, "zero": false}, "axis": {"title": "Reconstructed neutrino energy (GeV)", "values": [0.2,0.4,0.6,0.8,1.0,1.2,1.4], "format": ".1f"}}, "y": {"datum": 160.5, "type": "quantitative", "scale": {"domain": [0, 175.3], "nice": false, "zero": false}, "axis": {"title": "Events", "values": [0,50,100,150]}}}},
{"data": {"values": [{}]}, "mark": {"type": "text", "text": "NC π⁰ selection", "align": "right", "baseline": "alphabetic", "fontSize": 17, "color": "black"},
 "encoding": {"x": {"datum": 1.5486, "type": "quantitative", "scale": {"domain": [0.15, 1.587], "nice": false, "zero": false}, "axis": {"title": "Reconstructed neutrino energy (GeV)", "values": [0.2,0.4,0.6,0.8,1.0,1.2,1.4], "format": ".1f"}}, "y": {"datum": 160.5, "type": "quantitative", "scale": {"domain": [0, 175.3], "nice": false, "zero": false}, "axis": {"title": "Events", "values": [0,50,100,150]}}}},
{"data": {"values": [{}]}, "mark": {"type": "text", "text": "MicroBooNE, 6.38 × 10²⁰ POT", "align": "right", "baseline": "alphabetic", "fontSize": 15, "color": "black"},
 "encoding": {"x": {"datum": 1.5486, "type": "quantitative", "scale": {"domain": [0.15, 1.587], "nice": false, "zero": false}, "axis": {"title": "Reconstructed neutrino energy (GeV)", "values": [0.2,0.4,0.6,0.8,1.0,1.2,1.4], "format": ".1f"}}, "y": {"datum": 146.7, "type": "quantitative", "scale": {"domain": [0, 175.3], "nice": false, "zero": false}, "axis": {"title": "Events", "values": [0,50,100,150]}}}}
]
}
],
"spacing": 0,
"bounds": "flush",
"config": {
 "font": "DejaVu Sans",
 "numberFormat": "d",
 "view": {"stroke": "black", "strokeWidth": 1},
 "axis": {"domainColor": "black", "domainWidth": 1, "tickColor": "black", "tickWidth": 1, "tickSize": 6.5, "labelColor": "black", "labelFontSize": 18, "labelPadding": 7, "titleColor": "black", "titleFontSize": 19, "titleFontWeight": "normal", "grid": false, "labelFont": "DejaVu Sans", "titleFont": "DejaVu Sans", "labelFlush": false},
 "axisY": {"titlePadding": 8},
 "axisX": {"titlePadding": 5},
 "legend": {"labelFont": "DejaVu Sans", "labelFontSize": 16, "labelColor": "black", "symbolSize": 1089, "symbolStrokeWidth": 0, "labelOffset": 11, "columnPadding": 56, "rowPadding": -3.5, "padding": 0, "labelLimit": 400}
}
}
